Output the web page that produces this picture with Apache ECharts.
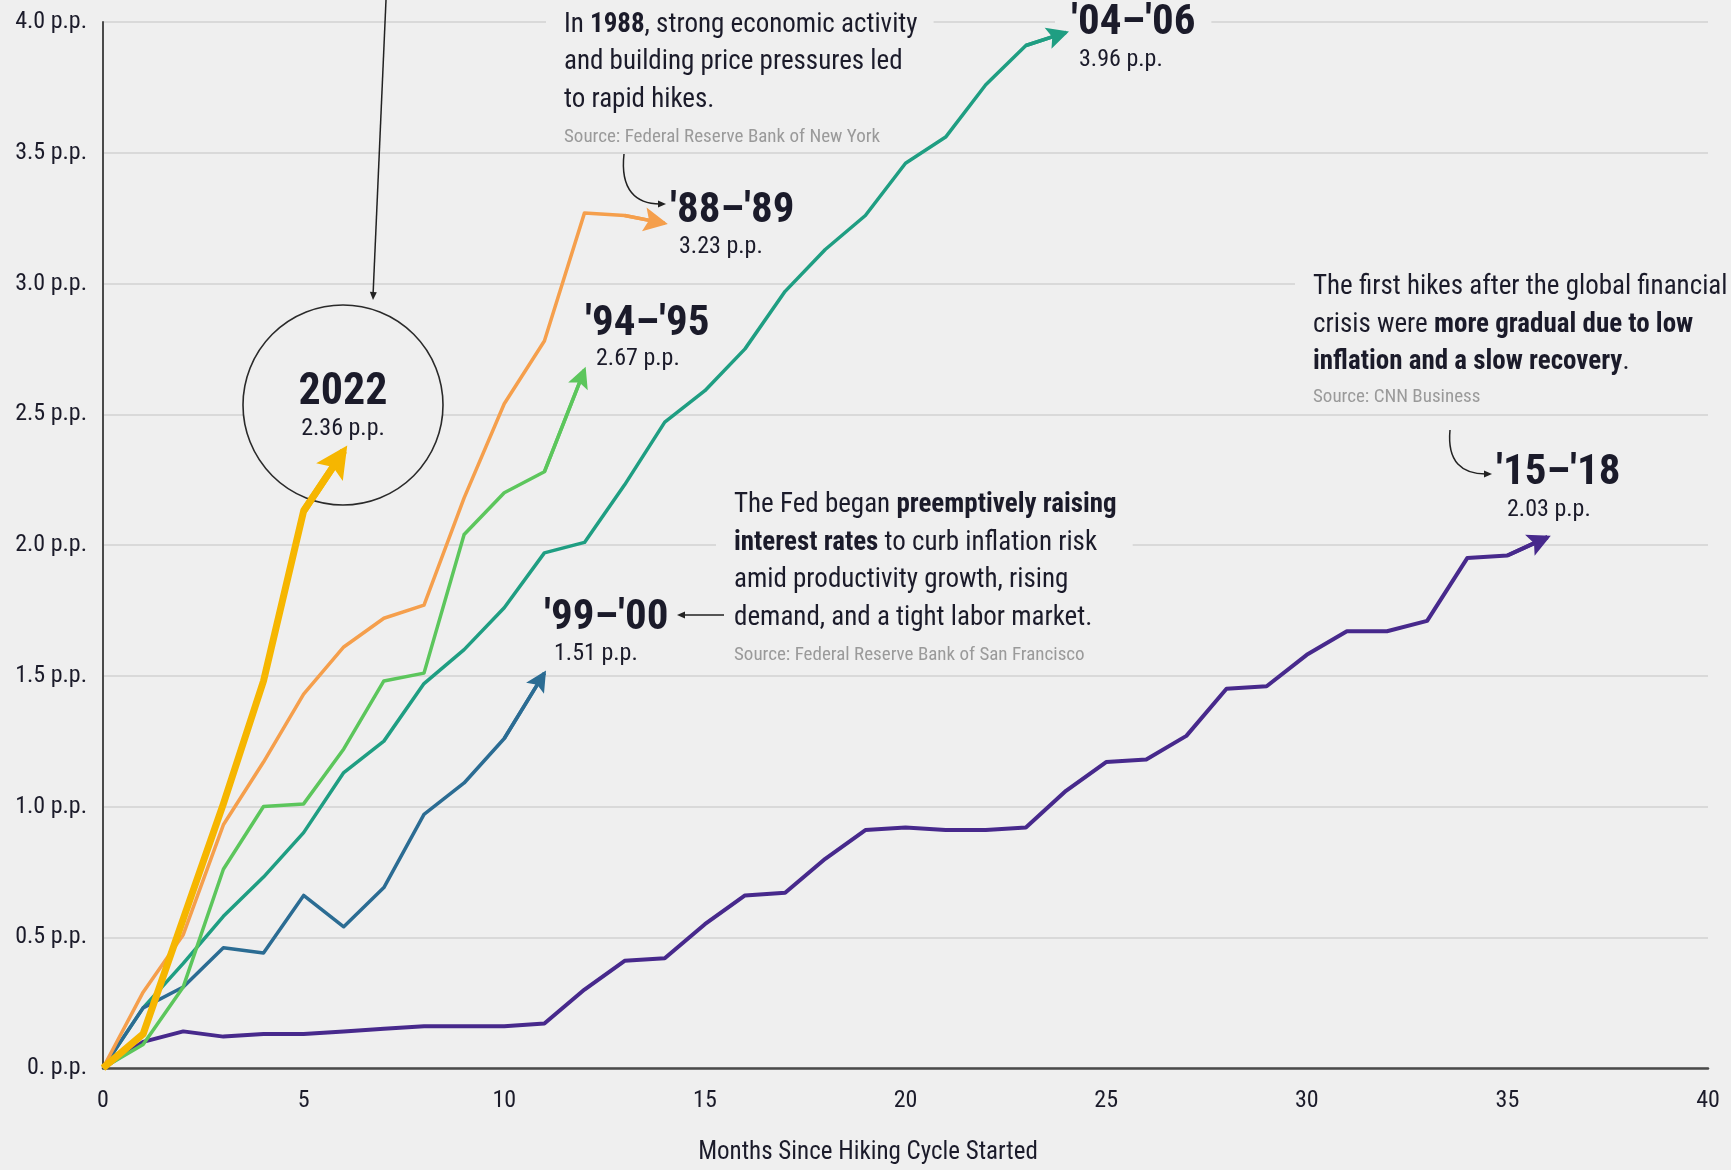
<!DOCTYPE html>
<html>
<head>
<meta charset="utf-8">
<script src="https://cdn.jsdelivr.net/npm/echarts@6/dist/echarts.min.js"></script>
<style>
html,body{margin:0;padding:0;background:#efefef;}
#chart{width:1731px;height:1170px;}
</style>
</head>
<body>
<div id="chart"></div>
<script>
// ---- data (percentage-point change in fed funds rate by month since cycle start) ----
const xTicks = [0, 5, 10, 15, 20, 25, 30, 35, 40];
const yTicks = [0, 0.5, 1.0, 1.5, 2.0, 2.5, 3.0, 3.5, 4.0];
const seriesNames = ["2022", "'88–'89", "'94–'95", "'99–'00", "'04–'06", "'15–'18"];
const endLabels = ["2.36 p.p.", "3.23 p.p.", "2.67 p.p.", "1.51 p.p.", "3.96 p.p.", "2.03 p.p."];
const s2022 = [0, 0.13, 0.57, 1.01, 1.48, 2.13, 2.36];
const s8889 = [0, 0.29, 0.51, 0.93, 1.17, 1.43, 1.61, 1.72, 1.77, 2.18, 2.54, 2.78, 3.27, 3.26, 3.23];
const s9495 = [0, 0.09, 0.31, 0.76, 1.00, 1.01, 1.22, 1.48, 1.51, 2.04, 2.20, 2.28, 2.67];
const s9900 = [0, 0.23, 0.31, 0.46, 0.44, 0.66, 0.54, 0.69, 0.97, 1.09, 1.26, 1.51];
const s0406 = [0, 0.23, 0.40, 0.58, 0.73, 0.90, 1.13, 1.25, 1.47, 1.60, 1.76, 1.97, 2.01, 2.23, 2.47, 2.59, 2.75, 2.97, 3.13, 3.26, 3.46, 3.56, 3.76, 3.91, 3.96];
const s1518 = [0, 0.10, 0.14, 0.12, 0.13, 0.13, 0.14, 0.15, 0.16, 0.16, 0.16, 0.17, 0.30, 0.41, 0.42, 0.55, 0.66, 0.67, 0.80, 0.91, 0.92, 0.91, 0.91, 0.92, 1.06, 1.17, 1.18, 1.27, 1.45, 1.46, 1.58, 1.67, 1.67, 1.71, 1.95, 1.96, 2.03];

// ---- styling ----
const BG = '#efefef';
const FONT = "'Roboto Condensed','Open Sans',sans-serif";
const DARK = '#1b1b2a';
const GREY = '#9a9a9a';
const ARROW = 'path://M50,0 L100,100 L50,80 L0,100 Z';

const chart = echarts.init(document.getElementById('chart'), null, {renderer: 'canvas'});

function toPairs(arr) { return arr.map((v, i) => [i, v]); }

function lineSeries(name, arr, color, width, z, arrowSize) {
  const n = arr.length;
  return {
    name: name,
    type: 'line',
    data: toPairs(arr),
    showSymbol: false,
    symbol: 'none',
    z: z,
    silent: true,
    animation: false,
    lineStyle: {color: color, width: width, join: 'round', cap: 'butt'},
    markLine: {
      silent: true,
      animation: false,
      symbol: ['none', ARROW],
      symbolSize: [arrowSize, arrowSize],
      symbolOffset: [0, [0, arrowSize / 2 - width * 0.9]],
      label: {show: false},
      emphasis: {disabled: true},
      lineStyle: {color: color, width: width, type: 'solid', opacity: 1, cap: 'butt'},
      data: [[{coord: [n - 2, arr[n - 2]]}, {coord: [n - 1, arr[n - 1]]}]]
    }
  };
}

function head(x1, y1, x2, y2, len, halfW) {
  const dx = x2 - x1, dy = y2 - y1;
  const L = Math.sqrt(dx * dx + dy * dy);
  const ux = dx / L, uy = dy / L;
  const bx = x2 - ux * len, by = y2 - uy * len;
  return {
    type: 'polygon', z: 5,
    shape: {points: [[x2, y2], [bx - uy * halfW, by + ux * halfW], [bx + uy * halfW, by - ux * halfW]]},
    style: {fill: '#222'}
  };
}

function txt(x, y, text, size, weight, color, align, extra) {
  return {
    type: 'text', z: 1,
    style: Object.assign({
      x: x, y: y, text: text,
      font: weight + ' ' + size + 'px ' + FONT,
      fill: color, align: align || 'left', verticalAlign: 'middle',
      backgroundColor: BG, padding: [0, 14]
    }, extra || {})
  };
}

const bodyRich = {
  b: {font: 'bold 27px ' + FONT, fill: DARK, lineHeight: 37.5}
};

function block(x, top, text) {
  return {
    type: 'text', z: 1,
    style: {
      x: x, y: top, text: text,
      font: 'normal 27px ' + FONT, fill: DARK,
      align: 'left', verticalAlign: 'top', lineHeight: 37.5,
      rich: bodyRich, backgroundColor: BG, padding: [0, 16, 0, 18]
    }
  };
}

function source(x, y, text) {
  return txt(x, y, text, 19, 'normal', GREY, 'left', {lineHeight: 22, padding: [0, 16, 0, 18]});
}

const graphics = [
  // 2022 circle
  {type: 'circle', z: 1, shape: {cx: 343, cy: 405, r: 100}, style: {fill: BG, stroke: 'none'}},
  {type: 'circle', z: 6, shape: {cx: 343, cy: 405, r: 100}, style: {fill: 'none', stroke: '#2a2a2a', lineWidth: 1.6}},
  // pointer from the top into the circle
  {type: 'line', z: 5, shape: {x1: 386, y1: 0, x2: 373, y2: 296}, style: {stroke: '#222', lineWidth: 1.5}},
  head(386, 0, 373, 300, 8, 3.5),

  // curved pointer NY -> '88-'89
  {type: 'bezierCurve', z: 5, shape: {x1: 624, y1: 154, cpx1: 620, cpy1: 190, cpx2: 636, cpy2: 204, x2: 660, y2: 204}, style: {stroke: '#222', lineWidth: 1.5, fill: 'none'}},
  head(650, 204, 666, 204, 8, 3.5),
  // curved pointer CNN -> '15-'18
  {type: 'bezierCurve', z: 5, shape: {x1: 1450, y1: 430, cpx1: 1447, cpy1: 462, cpx2: 1462, cpy2: 474, x2: 1486, y2: 474}, style: {stroke: '#222', lineWidth: 1.5, fill: 'none'}},
  head(1476, 474, 1492, 474, 8, 3.5),
  // straight pointer Fed -> '99-'00
  {type: 'line', z: 5, shape: {x1: 724, y1: 615, x2: 684, y2: 615}, style: {stroke: '#222', lineWidth: 1.5}},
  head(700, 615, 677, 615, 8, 3.5),

  // annotation blocks
  block(546, 6, 'In {b|1988}, strong economic activity\nand building price pressures led\nto rapid hikes.'),
  source(546, 137, 'Source: Federal Reserve Bank of New York'),
  block(716, 486.5, 'The Fed began {b|preemptively raising}\n{b|interest rates} to curb inflation risk\namid productivity growth, rising\ndemand, and a tight labor market.'),
  source(716, 655, 'Source: Federal Reserve Bank of San Francisco'),
  block(1295, 268.5, 'The first hikes after the global financial\ncrisis were {b|more gradual due to low}\n{b|inflation and a slow recovery}.'),
  source(1295, 397.5, 'Source: CNN Business'),

  // series labels
  txt(1055, 23, seriesNames[4], 43, 'bold', DARK, 'left', {padding: [0, 16]}),
  txt(1065, 60, endLabels[4], 24, 'normal', DARK, 'left', {backgroundColor: 'transparent'}),
  txt(656, 211, seriesNames[1], 43, 'bold', DARK),
  txt(665, 247, endLabels[1], 24, 'normal', DARK, 'left', {backgroundColor: 'transparent'}),
  txt(571, 324, seriesNames[2], 43, 'bold', DARK),
  txt(582, 359, endLabels[2], 24, 'normal', DARK, 'left', {backgroundColor: 'transparent'}),
  txt(530, 618, seriesNames[3], 43, 'bold', DARK, 'left', {backgroundColor: 'transparent'}),
  txt(540, 654, endLabels[3], 24, 'normal', DARK, 'left', {backgroundColor: 'transparent'}),
  txt(1482, 473, seriesNames[5], 43, 'bold', DARK, 'left', {backgroundColor: 'transparent'}),
  txt(1493, 510, endLabels[5], 24, 'normal', DARK, 'left', {backgroundColor: 'transparent'}),
  txt(343, 393, seriesNames[0], 44, 'bold', DARK, 'center', {backgroundColor: 'transparent', padding: 0}),
  txt(343, 429, endLabels[0], 24, 'normal', DARK, 'center', {backgroundColor: 'transparent', padding: 0}),

  // x axis title
  txt(868, 1153, 'Months Since Hiking Cycle Started', 25, 'normal', DARK, 'center', {backgroundColor: 'transparent', padding: 0})
];

const option = {
  backgroundColor: BG,
  animation: false,
  grid: {left: 103, right: 23, top: 22, bottom: 102, containLabel: false},
  xAxis: {
    type: 'value', min: 0, max: 40, interval: 5,
    axisLine: {show: true, onZero: false, lineStyle: {color: '#4a4a4a', width: 2.5}},
    axisTick: {show: false},
    splitLine: {show: false},
    axisLabel: {
      margin: 21, fontFamily: FONT, fontSize: 24, color: DARK,
      formatter: v => xTicks.includes(v) ? String(v) : ''
    }
  },
  yAxis: {
    type: 'value', min: 0, max: 4, interval: 0.5,
    axisLine: {show: true, lineStyle: {color: '#4a4a4a', width: 2}},
    axisTick: {show: false},
    splitLine: {show: true, lineStyle: {color: '#d2d2d2', width: 1.5}},
    axisLabel: {
      margin: 16, fontFamily: FONT, fontSize: 24, color: DARK,
      formatter: v => yTicks.includes(v) ? (v === 0 ? '0. p.p.' : v.toFixed(1) + ' p.p.') : ''
    }
  },
  series: [
    lineSeries(seriesNames[5], s1518, '#47298c', 4, 2, 23),
    lineSeries(seriesNames[4], s0406, '#1f9e82', 3.5, 3, 22),
    lineSeries(seriesNames[3], s9900, '#2b6c93', 3.5, 4, 21),
    lineSeries(seriesNames[2], s9495, '#5cc65c', 3.5, 5, 21),
    lineSeries(seriesNames[1], s8889, '#f59f4c', 3.5, 6, 24),
    lineSeries(seriesNames[0], s2022, '#f6b600', 7, 7, 32)
  ],
  graphic: {elements: graphics}
};
chart.setOption(option);
</script>
</body>
</html>
